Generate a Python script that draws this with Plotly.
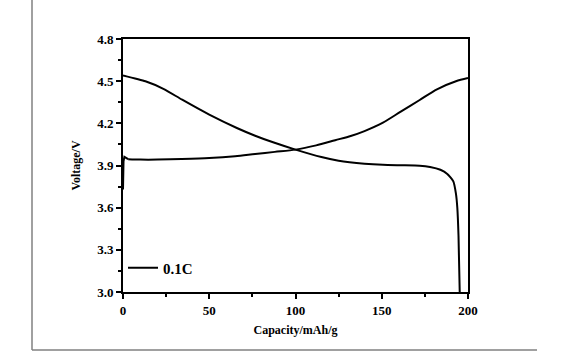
import plotly.graph_objects as go

# Charge curve (rising): initial jump, then main curve
charge_start_cap = [0, 0.3, 0.8, 3.0]
charge_start_v = [3.73, 3.93, 3.962, 3.945]
charge_cap = [3.0, 10, 20, 34, 50, 65, 76.6, 88, 100, 112, 123, 132, 140, 150.7, 161, 172, 182, 193, 200]
charge_v = [3.945, 3.942, 3.942, 3.946, 3.953, 3.966, 3.982, 3.997, 4.013, 4.043, 4.080, 4.110, 4.145, 4.205, 4.283, 4.366, 4.442, 4.499, 4.522]

# Discharge curve (falling)
dis_cap = [0, 13, 23.7, 34.3, 50, 66, 76.6, 87, 100, 115, 125, 140, 150.7, 161, 172, 178, 184, 188, 191.5, 193, 193.8, 194.5, 195.2]
dis_v = [4.541, 4.499, 4.444, 4.368, 4.262, 4.167, 4.112, 4.065, 4.013, 3.96, 3.934, 3.913, 3.905, 3.902, 3.899, 3.890, 3.870, 3.840, 3.787, 3.70, 3.60, 3.40, 3.0]

x_ticks = [0, 50, 100, 150, 200]
y_ticks = [3.0, 3.3, 3.6, 3.9, 4.2, 4.5, 4.8]

FONT = "Liberation Serif"
LINE = dict(color="black", width=2)

fig = go.Figure()
fig.add_trace(go.Scatter(x=charge_cap, y=charge_v, mode="lines", name="0.1C",
                         line=dict(**LINE, shape="spline", smoothing=0.8),
                         legendgroup="a", showlegend=True))
fig.add_trace(go.Scatter(x=charge_start_cap, y=charge_start_v, mode="lines", name="0.1C",
                         line=dict(**LINE), legendgroup="a", showlegend=False))
fig.add_trace(go.Scatter(x=dis_cap, y=dis_v, mode="lines", name="0.1C",
                         line=dict(**LINE, shape="spline", smoothing=0.5),
                         legendgroup="a", showlegend=False))

W, H = 572, 352
L, R, T, B = 123, 104, 39, 60
pw, ph = W - L - R, H - T - B

def px_x(p):
    return (p - L) / pw

def px_y(p):
    return (H - B - p) / ph

fig.update_layout(
    width=W, height=H,
    margin=dict(l=L, r=R, t=T, b=B),
    paper_bgcolor="white", plot_bgcolor="white",
    font=dict(family=FONT, color="black", size=13),
    showlegend=True,
    legend=dict(x=0.0, y=0.095, xanchor="left", yanchor="middle",
                bgcolor="rgba(0,0,0,0)", font=dict(family=FONT, size=15, weight="bold"),
                itemwidth=30, tracegroupgap=0),
    xaxis=dict(range=[0, 200], tickvals=x_ticks, ticktext=[str(v) for v in x_ticks],
               showgrid=False, zeroline=False, showline=True, linecolor="black", linewidth=2,
               mirror=True, ticks="outside", ticklen=5, tickwidth=2, tickcolor="black",
               tickfont=dict(family=FONT, size=13, weight="bold"),
               minor=dict(dtick=25, ticks="outside", ticklen=3, tickwidth=1.5, tickcolor="black", showgrid=False),
               title=dict(text="Capacity/mAh/g", font=dict(family=FONT, size=12, weight="bold"), standoff=9)),
    yaxis=dict(range=[3.0, 4.8], tickvals=y_ticks, ticktext=[f"{v:.1f}" for v in y_ticks],
               showgrid=False, zeroline=False, showline=True, linecolor="black", linewidth=2,
               mirror=True, ticks="outside", ticklen=5, tickwidth=2, tickcolor="black",
               tickfont=dict(family=FONT, size=13, weight="bold"),
               minor=dict(dtick=0.15, ticks="outside", ticklen=3, tickwidth=1.5, tickcolor="black", showgrid=False),
               title=dict(text="Voltage/V", font=dict(family=FONT, size=12, weight="bold"), standoff=14)),
    shapes=[
        dict(type="line", xref="paper", yref="paper", x0=px_x(32), x1=px_x(32), y0=px_y(0), y1=px_y(350),
             line=dict(color="#808080", width=1.5)),
        dict(type="line", xref="paper", yref="paper", x0=px_x(32), x1=px_x(537), y0=px_y(350), y1=px_y(350),
             line=dict(color="#808080", width=1.5)),
    ],
)

fig.write_html("out.html")
